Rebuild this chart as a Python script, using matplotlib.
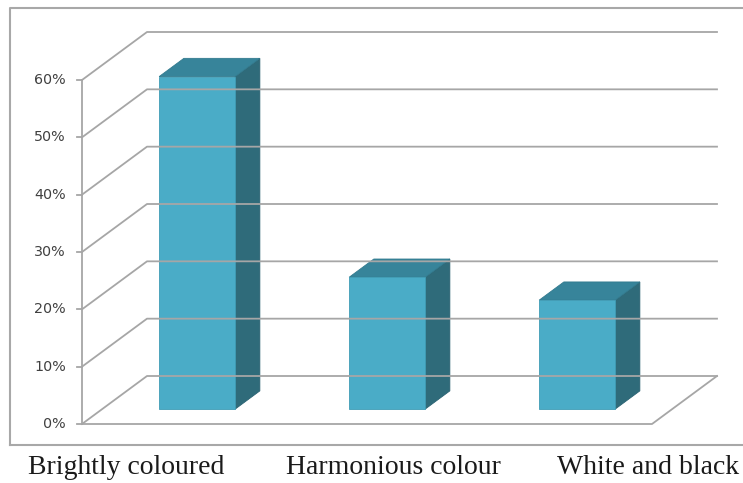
import matplotlib
matplotlib.use('Agg')
import matplotlib.pyplot as plt
import matplotlib.patches as patches

categories = ["Brightly coloured", "Harmonious colour", "White and black"]
values = [58, 23, 19]
ticks = [0, 10, 20, 30, 40, 50, 60]
tick_labels = ["0%", "10%", "20%", "30%", "40%", "50%", "60%"]
label_x_px = [126, 393, 648]

W, H = 743, 483
DEPTH_DX, DEPTH_DY = 65, 48   # pixel shift of the back wall
BAR_D0, BAR_D1 = 0.31, 0.69   # bar depth inside the floor
BAR_W = 0.4

FRONT = '#4aacc7'
TOP = '#37849a'
SIDE = '#2f6b7a'
GRID = '#a6a6a6'


def main():
    fig = plt.figure(figsize=(W / 100, H / 100), dpi=100)
    fig.patch.set_facecolor('white')

    # front plane of the 3D box
    ax = fig.add_axes([82 / W, 59 / H, 570 / W, 344 / H])
    ax.set_xlim(0, 3)
    ax.set_ylim(0, 60)
    ax.axis('off')
    fig.canvas.draw()

    def proj(x, y, d):
        px, py = ax.transData.transform((x, y))
        return (px + d * DEPTH_DX, py + d * DEPTH_DY)

    def poly(pts, **kw):
        p = patches.Polygon(pts, closed=True, transform=None, **kw)
        fig.patches.append(p)

    def line(pts, **kw):
        xs, ys = zip(*pts)
        fig.add_artist(plt.Line2D(xs, ys, transform=None, **kw))

    # outer border
    fig.add_artist(plt.Line2D([10, 10, W + 5], [H - 445, H - 8, H - 8],
                              transform=None, color='#a8a8a8', lw=1.5))
    fig.add_artist(plt.Line2D([10, W + 5], [H - 445, H - 445],
                              transform=None, color='#a8a8a8', lw=1.5))

    # gridlines on side and back wall
    for t in ticks:
        line([proj(0, t, 0), proj(0, t, 1), proj(3, t, 1)], color=GRID, lw=1.3)
    # floor outline
    line([proj(0, 0, 0), proj(3, 0, 0), proj(3, 0, 1)], color=GRID, lw=1.3)

    # value axis with ticks
    line([proj(0, 0, 0), proj(0, 60, 0)], color=GRID, lw=1.3)
    for t, lab in zip(ticks, tick_labels):
        x0, y0 = proj(0, t, 0)
        line([(x0 - 5, y0), (x0, y0)], color=GRID, lw=1.3)
        fig.text((x0 - 16) / W, y0 / H, lab, ha='right', va='center',
                 fontsize=10.3, color='#404040', fontname='DejaVu Sans')

    # bars
    for i, v in enumerate(values):
        xc = i + 0.5
        xl, xr = xc - BAR_W / 2, xc + BAR_W / 2
        front = [proj(xl, 0, BAR_D0), proj(xr, 0, BAR_D0),
                 proj(xr, v, BAR_D0), proj(xl, v, BAR_D0)]
        top = [proj(xl, v, BAR_D0), proj(xr, v, BAR_D0),
               proj(xr, v, BAR_D1), proj(xl, v, BAR_D1)]
        side = [proj(xr, 0, BAR_D0), proj(xr, 0, BAR_D1),
                proj(xr, v, BAR_D1), proj(xr, v, BAR_D0)]
        poly(side, fc=SIDE, ec='#2a6272', lw=0.6)
        poly(top, fc=TOP, ec='#327a8e', lw=0.6)
        poly(front, fc=FRONT, ec='#3f9cb5', lw=0.6)

    # category labels
    for lab, lx in zip(categories, label_x_px):
        fig.text(lx / W, (H - 467) / H, lab, ha='center', va='center',
                 fontsize=20, color='#1a1a1a', fontname='Liberation Serif')

    fig.savefig('out.png', dpi=100)
    plt.close(fig)


if __name__ == "__main__":
    main()
